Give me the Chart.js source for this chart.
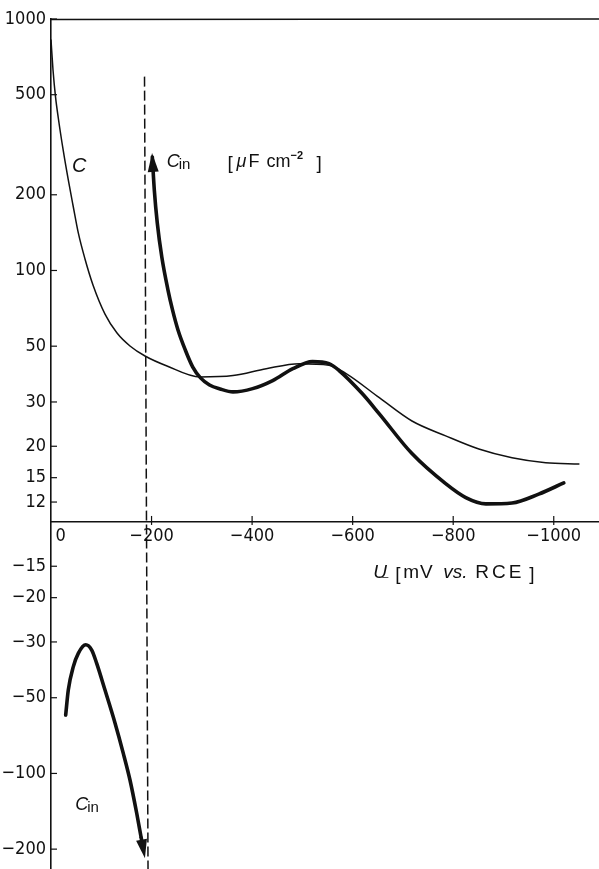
<!DOCTYPE html>
<html><head><meta charset="utf-8">
<script src="https://cdn.jsdelivr.net/npm/chart.js@4"></script>
<style>html,body{margin:0;padding:0;background:#fff}#wrap{width:599px;height:869px;position:relative}</style>
</head><body><div id="wrap"><canvas id="c"></canvas></div>
<script>
// ---- data (x: potential in mV vs. RCE, y: capacitance in µF cm^-2) ----
const cPotential = [0,-4,-9,-14.5,-24.5,-34.4,-44.4,-54.3,-67.6,-83.5,-107.4,-131.3,-157.1,-187,-230.7,-296.4,-362,-428,-494,-553,-587,-653,-718,-785,-851,-917,-984,-1050];
const cValues    = [825,627,490,404,298.7,229,178.8,141,111.1,87.6,67.1,56.4,50.1,45.7,41.7,37.7,38.2,40.7,42.6,42,38.9,31.2,25.2,22.0,19.5,18.0,17.2,17.0];

const cinPosPotential = [-201.5,-205.5,-211.4,-220.4,-232.7,-241.7,-252.6,-267.1,-282,-297.4,-315.3,-336.2,-362,-401,-441,-481,-520,-553,-573,-619,-653,-718,-785,-825,-865,-917,-970,-1020];
const cinPosValues    = [282.7,208.9,154.5,113.1,83.6,69.7,58.0,48.3,41.3,37.4,35.05,33.8,32.9,33.9,36.5,40.7,43.4,42.6,40,32.4,26.9,18.7,14.2,12.5,11.8,11.9,12.9,14.3];

const cinNegPotential = [-29.2,-34.4,-44.4,-54.3,-69,-81,-90.9,-107.4,-127.3,-143.8,-157.1,-170.5,-179];
const cinNegValues    = [-58.6,-46.6,-37.6,-33.3,-30.8,-32.3,-36.5,-46.6,-63,-83.2,-106.2,-144,-178.5];

const markerPotential = [-186,-193];
const markerValues    = [590,-240];

const xTickValues = [0,-200,-400,-600,-800,-1000];
const yTickValues = [1000,500,200,100,50,30,20,15,12,-15,-20,-30,-50,-100,-200];

// split log scale: positive branch above the axis, negative branch mirrored below
const tY = v => v > 0 ? Math.log10(v) - 1 : -(Math.log10(-v) - 1);
const pts = (xs, ys) => xs.map((x, i) => ({x, y: tY(ys[i])}));
const minus = s => String(s).replace('-', '\u2212');

const INK = '#111';
const TICKFONT = {family: "'Liberation Sans Narrow','DejaVu Sans Condensed',sans-serif", size: 18};

const overlay = {
  id: 'overlay',
  afterDatasetsDraw(chart) {
    const {ctx, chartArea: a, scales: {x, y}} = chart;
    ctx.save();
    ctx.strokeStyle = INK; ctx.fillStyle = INK;
    // top frame line
    ctx.lineWidth = 1.6;
    ctx.beginPath(); ctx.moveTo(a.left, a.top + 0.5); ctx.lineTo(a.right, a.top); ctx.stroke();
    // tick marks
    ctx.lineWidth = 1.2;
    const y0 = y.getPixelForValue(0);
    x.ticks.forEach(t => { const px = x.getPixelForValue(t.value); if (t.value === 0) return;
      ctx.beginPath(); ctx.moveTo(px, y0 - 6); ctx.lineTo(px, y0 + 3); ctx.stroke(); });
    y.ticks.forEach(t => { const py = y.getPixelForValue(t.value);
      ctx.beginPath(); ctx.moveTo(a.left, py); ctx.lineTo(a.left + 6, py); ctx.stroke(); });
    // arrow heads
    chart.data.datasets.forEach((ds, i) => {
      if (!ds.arrow) return;
      const el = chart.getDatasetMeta(i).data;
      const tip = ds.arrow === 'start' ? el[0] : el[el.length - 1];
      const prv = ds.arrow === 'start' ? el[1] : el[el.length - 2];
      const ang = Math.atan2(tip.y - prv.y, tip.x - prv.x);
      const L = 19, W = 5.5, ext = ds.arrowExt || 4;
      const tx = tip.x + Math.cos(ang) * ext, ty = tip.y + Math.sin(ang) * ext;
      ctx.beginPath();
      ctx.moveTo(tx, ty);
      ctx.lineTo(tx - L * Math.cos(ang) + W * Math.sin(ang), ty - L * Math.sin(ang) - W * Math.cos(ang));
      ctx.lineTo(tx - L * Math.cos(ang) - W * Math.sin(ang), ty - L * Math.sin(ang) + W * Math.cos(ang));
      ctx.closePath(); ctx.fill();
      if (ext > 4) { // continue the thick stroke up to the arrow base
        ctx.lineWidth = ds.borderWidth; ctx.lineCap = 'butt';
        ctx.beginPath(); ctx.moveTo(tip.x, tip.y);
        ctx.lineTo(tx - (L - 2) * Math.cos(ang), ty - (L - 2) * Math.sin(ang)); ctx.stroke();
      }
    });
    // text annotations
    const F = "'Liberation Sans',Arial,sans-serif";
    const draw = (ax, ay, parts) => {
      const bx = x.getPixelForValue(ax), by = y.getPixelForValue(tY(ay));
      parts.forEach(p => { ctx.font = p.f; ctx.letterSpacing = p.ls || '0px';
        ctx.fillText(p.t, bx + p.dx, by + (p.dy || 0)); });
    };
    ctx.textBaseline = 'alphabetic'; ctx.textAlign = 'left';
    draw(-42, 246, [{t: 'C', f: `italic 20px ${F}`, dx: 0}]);
    draw(-230, 259, [{t: 'C', f: `italic 18px ${F}`, dx: 0}, {t: 'in', f: `15px ${F}`, dx: 12, dy: 2}]);
    draw(-351, 259, [
      {t: '[', f: `19px ${F}`, dx: 0, dy: 2},
      {t: '\u03bc', f: `italic 18px ${F}`, dx: 9},
      {t: 'F', f: `18px ${F}`, dx: 21},
      {t: 'cm', f: `18px ${F}`, dx: 39},
      {t: '\u22122', f: `bold 11px ${F}`, dx: 63, dy: -8},
      {t: ']', f: `19px ${F}`, dx: 89, dy: 2}
    ]);
    draw(-641, -16.7, [
      {t: 'U', f: `italic 19px ${F}`, dx: 0},
      {t: '\u2013', f: `11px ${F}`, dx: 9, dy: 2},
      {t: '[', f: `19px ${F}`, dx: 22, dy: 2},
      {t: 'mV', f: `19px ${F}`, dx: 30, ls: '1px'},
      {t: 'vs.', f: `italic 19px ${F}`, dx: 70},
      {t: 'RCE', f: `19px ${F}`, dx: 102, ls: '3px'},
      {t: ']', f: `19px ${F}`, dx: 156, dy: 2}
    ]);
    draw(-48, -140, [{t: 'C', f: `italic 18px ${F}`, dx: 0}, {t: 'in', f: `15px ${F}`, dx: 12, dy: 2}]);
    ctx.restore();
  }
};

const lineDs = (data, w, extra = {}) => Object.assign({
  data, borderColor: INK, backgroundColor: INK, borderWidth: w, pointRadius: 0,
  fill: false, cubicInterpolationMode: 'monotone', borderCapStyle: 'round', borderJoinStyle: 'round'
}, extra);

new Chart(document.getElementById('c'), {
  type: 'line',
  data: {
    datasets: [
      lineDs(pts(cPotential, cValues), 1.5),
      lineDs(pts(cinPosPotential, cinPosValues), 3.6, {arrow: 'start'}),
      lineDs(pts(cinNegPotential, cinNegValues), 3.6, {arrow: 'end', arrowExt: 22}),
      lineDs(pts(markerPotential, markerValues), 1.5, {borderDash: [10, 4], borderCapStyle: 'butt', cubicInterpolationMode: 'default', tension: 0})
    ]
  },
  options: {
    responsive: true, maintainAspectRatio: false, animation: false,
    layout: {padding: {top: 19, left: 0, right: 0, bottom: 0}},
    plugins: {legend: {display: false}, tooltip: {enabled: false}},
    scales: {
      x: {
        type: 'linear', position: {y: 0}, min: -1090, max: 0, reverse: true,
        grid: {display: false, drawTicks: false},
        border: {display: true, color: INK, width: 1.4},
        afterBuildTicks: s => { s.ticks = xTickValues.map(v => ({value: v})); },
        afterFit: s => { s.paddingLeft = 0; s.paddingRight = 0; },
        ticks: {color: INK, font: TICKFONT, padding: 4, maxRotation: 0, autoSkip: false,
          callback: v => v === 0 ? '\u2003\u20090' : minus(v)}
      },
      y: {
        type: 'linear', position: 'left', min: -1.38, max: 2,
        grid: {display: false, drawTicks: false},
        border: {display: true, color: INK, width: 1.6},
        afterBuildTicks: s => { s.ticks = yTickValues.map(v => ({value: tY(v)})); },
        afterFit: s => { s.width = 51; s.paddingTop = 0; s.paddingBottom = 0; },
        ticks: {color: INK, font: TICKFONT, padding: 5, autoSkip: false,
          callback: (v, i) => minus(yTickValues[i])}
      }
    }
  },
  plugins: [overlay]
});
</script>
</body></html>
